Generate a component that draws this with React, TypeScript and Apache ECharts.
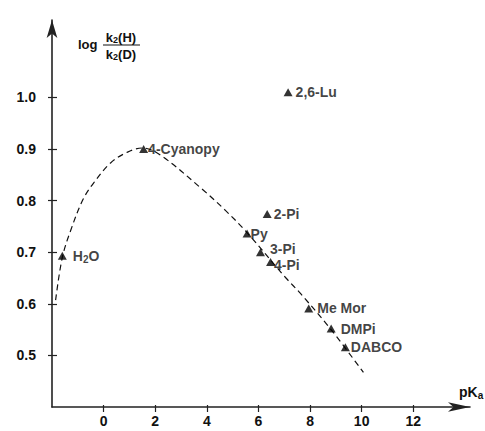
import React, { useEffect, useRef } from 'react';
import * as echarts from 'echarts';

// Compounds (triangles)
const compounds = ['H2O', '4-Cyanopy', '2,6-Lu', '2-Pi', 'Py', '3-Pi', '4-Pi', 'Me Mor', 'DMPi', 'DABCO'];
const pKaValues = [-1.6, 1.55, 7.15, 6.34, 5.56, 6.08, 6.47, 7.95, 8.82, 9.37];
const logRatio = [0.693, 0.9, 1.01, 0.774, 0.736, 0.7, 0.681, 0.591, 0.552, 0.516];
const labelGap = [6, 0, 3, 2, -1, 5, -1, 4, 5, 1];
const labelShift = [0, 0, 0, 0, 0, -3, 3, 0, 0, 0];

// Dashed trend curve
const curveX = [-1.86, -1.6, -1.27, -0.81, -0.39, 0.27, 0.93, 1.51, 2.21, 3.87, 4.72, 5.54, 7.05, 7.63, 8.83, 10.07];
const curveY = [0.607, 0.69, 0.743, 0.801, 0.834, 0.873, 0.894, 0.902, 0.888, 0.82, 0.781, 0.739, 0.651, 0.62, 0.549, 0.467];

// Tick labels
const xTicks = [0, 2, 4, 6, 8, 10, 12];
const yTicks = [0.5, 0.6, 0.7, 0.8, 0.9, 1.0];

const FONT = 'Liberation Sans';
const INK = '#111';

const rich = {
  n: { fontFamily: FONT, fontSize: 14, fontWeight: 'bold', color: INK, lineHeight: 12 },
  h: { fontFamily: FONT, fontSize: 14, fontWeight: 'bold', color: INK, lineHeight: 17 },
  s: { fontFamily: FONT, fontSize: 10, fontWeight: 'bold', color: INK, verticalAlign: 'bottom' },
};

function richName(name: string): string {
  if (name === 'H2O') return '{h|H}{s|2}{h|O}';
  return '{n|' + name + '}';
}

export default function App() {
  const ref = useRef<HTMLDivElement>(null);
  useEffect(() => {
    if (!ref.current) return;
    const chart = echarts.init(ref.current, undefined, { renderer: 'svg' });
    const xMin = -2, xMax = 14.2, yMin = 0.4, yMax = 1.15;
    const axisLineStyle = { color: '#222', width: 1.6 };
    const option: any = {
      animation: false,
      backgroundColor: '#fff',
      grid: { left: 52, right: 15, top: 20, bottom: 24 },
      xAxis: [
        {
          type: 'value', min: xMin, max: xMax, interval: 2, position: 'bottom',
          splitLine: { show: false },
          axisLine: { show: true, onZero: false, symbol: ['none', 'arrow'], symbolSize: [7, 22], lineStyle: axisLineStyle },
          axisTick: { show: true, customValues: xTicks, length: 5, lineStyle: { color: '#222', width: 1.2 } },
          axisLabel: {
            show: true, customValues: xTicks, margin: 7,
            fontFamily: FONT, fontSize: 14, fontWeight: 'bold', color: INK,
            formatter: (v: number) => String(v),
          },
        },
        {
          type: 'value', min: xMin, max: xMax, interval: 2, position: 'bottom',
          splitLine: { show: false },
          axisLine: { show: false, onZero: false },
          axisTick: { show: true, inside: true, customValues: xTicks, length: 2, lineStyle: { color: '#222', width: 1.2 } },
          axisLabel: { show: false },
        },
      ],
      yAxis: [
        {
          type: 'value', min: yMin, max: yMax, interval: 0.1, position: 'left',
          splitLine: { show: false },
          axisLine: { show: true, onZero: false, symbol: ['none', 'arrow'], symbolSize: [8, 18], lineStyle: axisLineStyle },
          axisTick: { show: true, customValues: yTicks, length: 4, lineStyle: { color: '#222', width: 1.2 } },
          axisLabel: {
            show: true, customValues: yTicks, margin: 16,
            fontFamily: FONT, fontSize: 14, fontWeight: 'bold', color: INK,
            formatter: (v: number) => v.toFixed(1),
          },
        },
        {
          type: 'value', min: yMin, max: yMax, interval: 0.1, position: 'left',
          splitLine: { show: false },
          axisLine: { show: false, onZero: false },
          axisTick: { show: true, inside: true, customValues: yTicks, length: 5, lineStyle: { color: '#222', width: 1.2 } },
          axisLabel: { show: false },
        },
      ],
      series: [
        {
          type: 'line',
          xAxisIndex: 0, yAxisIndex: 0,
          data: curveX.map((x, i) => [x, curveY[i]]),
          smooth: 0.35,
          showSymbol: false,
          symbol: 'none',
          silent: true,
          lineStyle: { color: '#111', width: 1.2, type: [6, 4] },
          z: 1,
        },
        {
          type: 'scatter',
          xAxisIndex: 0, yAxisIndex: 0,
          symbol: 'triangle',
          symbolSize: [9, 8],
          itemStyle: { color: '#000' },
          z: 3,
          data: compounds.map((name, i) => ({
            name,
            value: [pKaValues[i], logRatio[i]],
            label: { distance: labelGap[i], offset: [0, labelShift[i]] },
          })),
          label: {
            show: true,
            position: 'right',
            formatter: (p: any) => richName(p.name),
            rich,
          },
        },
      ],
      graphic: [
        {
          type: 'text', left: 78, top: 38, z: 10,
          style: { text: 'log', fontFamily: FONT, fontSize: 13, fontWeight: 'bold', fill: INK },
        },
        {
          type: 'text', x: 121, y: 37, z: 10,
          style: {
            text: '{n|k}{s|2}{n|(H)}', align: 'center', verticalAlign: 'middle',
            rich: {
              n: { fontFamily: FONT, fontSize: 13, fontWeight: 'bold', fill: INK, lineHeight: 15 },
              s: { fontFamily: FONT, fontSize: 9, fontWeight: 'bold', fill: INK, verticalAlign: 'bottom' },
            },
          },
        },
        {
          type: 'line', z: 10,
          shape: { x1: 103, y1: 45, x2: 140, y2: 45 },
          style: { stroke: INK, lineWidth: 1.2 },
        },
        {
          type: 'text', x: 121, y: 54, z: 10,
          style: {
            text: '{n|k}{s|2}{n|(D)}', align: 'center', verticalAlign: 'middle',
            rich: {
              n: { fontFamily: FONT, fontSize: 13, fontWeight: 'bold', fill: INK, lineHeight: 15 },
              s: { fontFamily: FONT, fontSize: 9, fontWeight: 'bold', fill: INK, verticalAlign: 'bottom' },
            },
          },
        },
        {
          type: 'text', x: 459, y: 392, z: 10,
          style: {
            text: '{n|pK}{s|a}', align: 'left', verticalAlign: 'middle',
            rich: {
              n: { fontFamily: FONT, fontSize: 14, fontWeight: 'bold', fill: INK, lineHeight: 17 },
              s: { fontFamily: FONT, fontSize: 10, fontWeight: 'bold', fill: INK, verticalAlign: 'bottom' },
            },
          },
        },
      ],
    };
    chart.setOption(option);
    return () => chart.dispose();
  }, []);
  return (
    <div
      ref={ref}
      style={{ position: 'fixed', left: 0, top: 0, width: 485, height: 431, background: '#fff' }}
    />
  );
}
